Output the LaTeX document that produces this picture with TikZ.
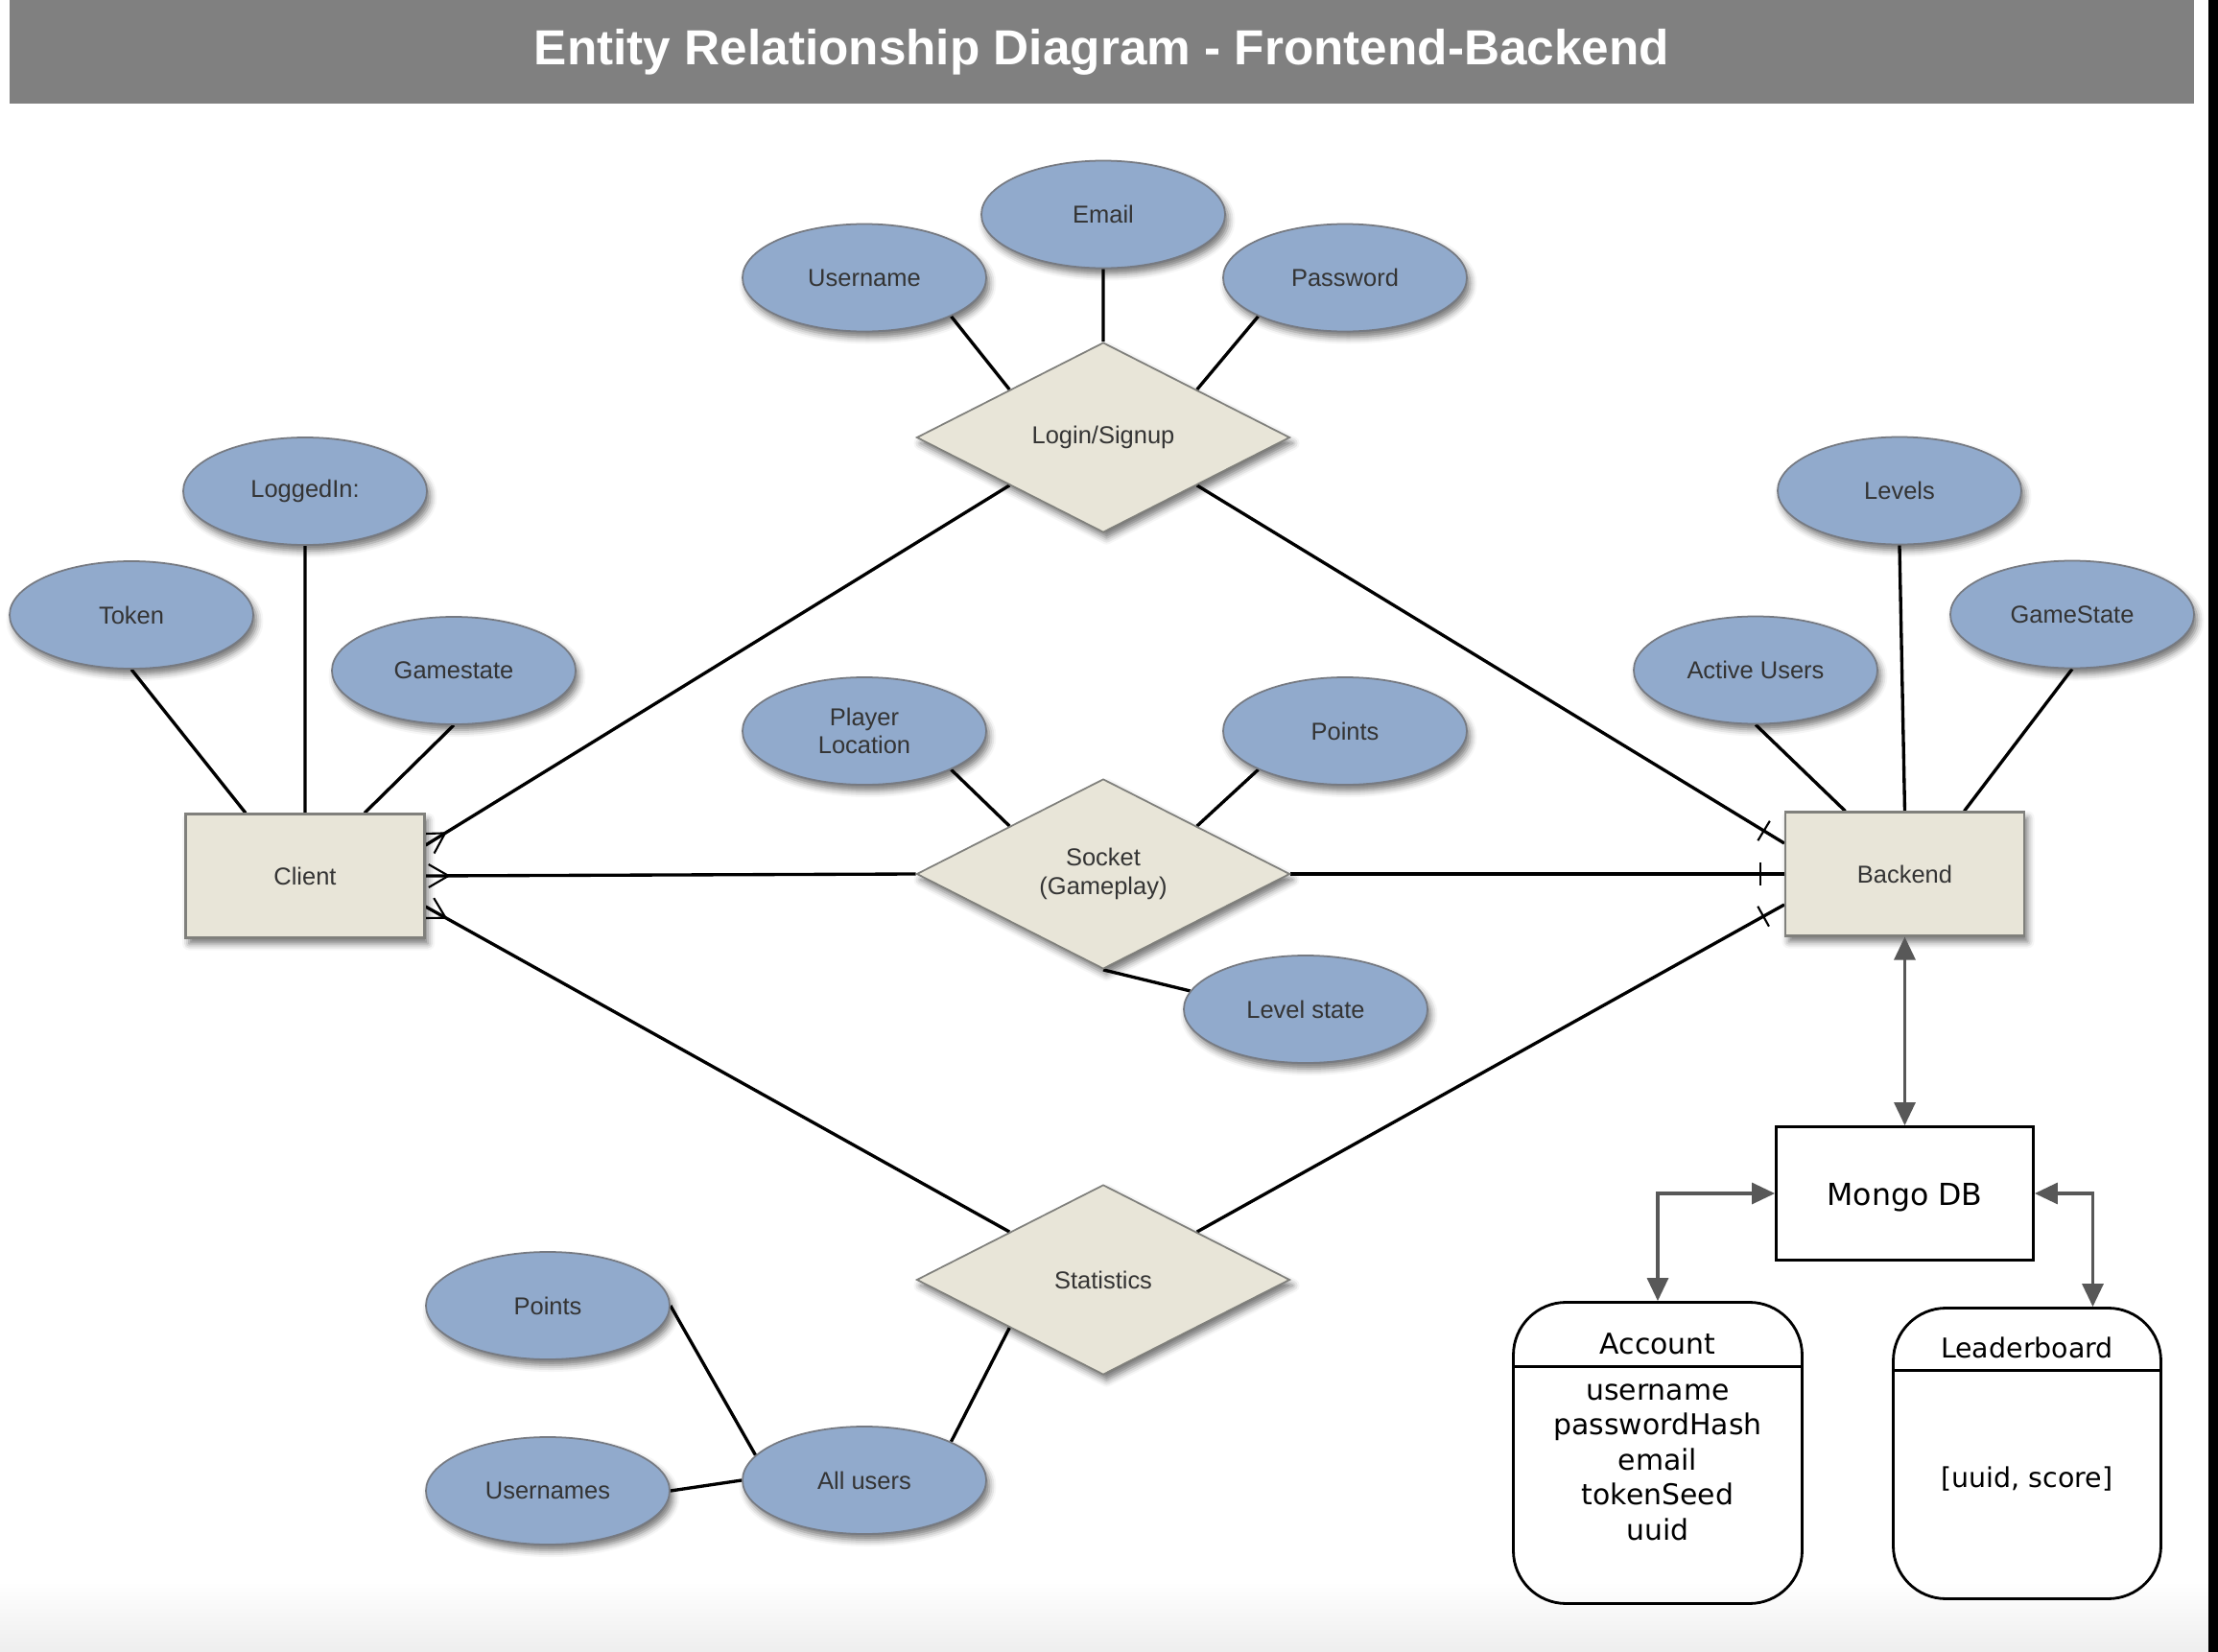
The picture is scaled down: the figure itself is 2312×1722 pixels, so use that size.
\documentclass[tikz,border=0pt]{standalone}
\usepackage{fontspec}
\setmainfont{Liberation Sans}
\newfontfamily\dbfont{DejaVu Sans}
\usepackage{tikz}
\usetikzlibrary{arrows.meta,positioning,calc,shapes.geometric,shadows.blur,backgrounds}
\definecolor{attrblue}{RGB}{145,170,204}
\definecolor{attrline}{RGB}{118,122,130}
\definecolor{entfill}{RGB}{232,229,216}
\definecolor{entline}{RGB}{128,128,124}
\definecolor{bargray}{RGB}{128,128,128}
\definecolor{arrowgray}{RGB}{88,88,88}
\definecolor{labelgray}{RGB}{52,52,52}
\definecolor{footgray}{RGB}{238,238,238}

\tikzset{
  softshadow/.style={blur shadow={shadow xshift=0.35mm, shadow yshift=-0.6mm, shadow blur radius=0.7mm, shadow opacity=55}},
  erfont/.style={font=\fontsize{7.25}{8.4}\selectfont, text=labelgray},
  attr/.style={ellipse, draw=attrline, line width=0.5pt, fill=attrblue, minimum width=25.4mm, minimum height=11.2mm, inner sep=0pt, align=center, erfont, softshadow},
  entity/.style={rectangle, draw=entline, line width=0.6pt, fill=entfill, minimum width=24.9mm, minimum height=12.9mm, erfont, softshadow},
  relation/.style={diamond, draw=entline, line width=0.5pt, fill=entfill, minimum width=38.9mm, minimum height=19.8mm, inner sep=0pt, align=center, erfont, softshadow},
  erline/.style={line width=0.95pt, black},
  footline/.style={line width=0.6pt, black},
  dbline/.style={draw=arrowgray, line width=0.9pt, {Triangle[length=2.4mm,width=2.2mm]}-{Triangle[length=2.4mm,width=2.2mm]}},
  store/.style={draw=black, line width=0.8pt, rounded corners=5.5mm},
  storetext/.style={font=\dbfont\fontsize{#1}{10.4}\selectfont, align=center},
}

\begin{document}
\begin{tikzpicture}[x=0.1mm, y=-0.1mm, on grid]
  \useasboundingbox (0,0) rectangle (2312,1722);
  \shade[top color=white, bottom color=footgray] (0,1648) rectangle (2302,1722);
  \fill[black] (2302,0) rectangle (2312,1722);
  \node[fill=bargray, minimum width=227.7mm, minimum height=10.8mm, text=white, font=\fontsize{14.6}{17}\selectfont\bfseries] (title) at (1148.5,54) {Entity Relationship Diagram - Frontend-Backend};

  % relationships and entities
  \node[relation] (socket) at (1150,911) {Socket\\(Gameplay)};
  \node[relation, above=45.5mm of socket] (login) {Login/Signup};
  \node[relation, below=42.3mm of socket] (stats) {Statistics};
  \node[entity, below left=0.2mm and 83.2mm of socket] (client) {Client};
  \node[entity, right=83.55mm of socket] (backend) {Backend};

  % attributes
  \node[attr, above=23.25mm of login] (email) {Email};
  \node[attr, above left=16.65mm and 24.9mm of login] (username) {Username};
  \node[attr, above right=16.65mm and 25.2mm of login] (password) {Password};
  \node[attr, above=40.1mm of client] (loggedin) {LoggedIn:};
  \node[attr, above left=27.2mm and 18.1mm of client] (token) {Token};
  \node[attr, above right=21.4mm and 15.5mm of client] (gamestate) {Gamestate};
  \node[attr, above left=14.9mm and 24.9mm of socket] (playerloc) {Player\\Location};
  \node[attr, above right=14.9mm and 25.2mm of socket] (pointsup) {Points};
  \node[attr, below right=14.1mm and 21.1mm of socket] (levelstate) {Level state};
  \node[attr, above left=21.25mm and 15.55mm of backend] (activeusers) {Active Users};
  \node[attr, above left=39.95mm and 0.55mm of backend] (levels) {Levels};
  \node[attr, above right=27.05mm and 17.45mm of backend] (gamestatebe) {GameState};
  \node[attr, below left=20.9mm and 24.9mm of stats] (allusers) {All users};
  \node[attr, above left=18.2mm and 33mm of allusers] (pointsdown) {Points};
  \node[attr, below left=1.1mm and 33mm of allusers] (usernames) {Usernames};

  % database
  \node[draw, line width=0.8pt, minimum width=26.8mm, minimum height=13.9mm, text height=0.73em, text depth=0pt, font=\dbfont\fontsize{9}{11}\selectfont, below=33.3mm of backend] (mongo) {Mongo DB};
  \node[store, minimum width=30.1mm, minimum height=31.4mm, below left=27.05mm and 25.75mm of mongo] (account) {};
  \node[storetext=8.5] (accounthead) at ([yshift=-4.5mm]account.north) {Account};
  \node[storetext=8.5] (accountbody) at ([yshift=-16.8mm]account.north) {username\\passwordHash\\email\\tokenSeed\\uuid};
  \draw[line width=0.8pt] ([yshift=-6.8mm]account.north west) -- ([yshift=-6.8mm]account.north east);
  \node[store, minimum width=27.9mm, minimum height=30.3mm, below right=27.1mm and 12.75mm of mongo] (leader) {};
  \node[storetext=8.1] (leaderhead) at ([yshift=-4.3mm]leader.north) {Leaderboard};
  \node[storetext=8.1] (leaderbody) at ([yshift=-17.9mm]leader.north) {[uuid, score]};
  \draw[line width=0.8pt] ([yshift=-6.6mm]leader.north west) -- ([yshift=-6.6mm]leader.north east);

  \draw[dbline] (backend.south) -- (mongo.north);
  \draw[dbline] (mongo.west) -| (account.north);
  \draw[dbline] (mongo.east) -| ([xshift=6.85mm]leader.north);

  \begin{scope}[on background layer]
    \draw[erline] (username.south east) -- (login.north west)
      (email.south) -- (login.north)
      (password.south west) -- (login.north east);
    \draw[erline] (token.south) -- ([xshift=-6.2mm]client.north)
      (loggedin.south) -- (client.north)
      (gamestate.south) -- ([xshift=6.2mm]client.north);
    \draw[erline] (playerloc.south east) -- (socket.north west)
      (pointsup.south west) -- (socket.north east)
      (socket.south) -- (levelstate.171);
    \draw[erline] (activeusers.south) -- ([xshift=-6.2mm]backend.north)
      (levels.south) -- (backend.north)
      (gamestatebe.south) -- ([xshift=6.2mm]backend.north);
    \draw[erline] (stats.south west) -- (allusers.north east)
      (pointsdown.east) -- (allusers.167)
      (usernames.east) -- (allusers.west);

    % many side: crow's feet at the client
    \foreach \rel/\dy in {login.south west/3.2mm, socket.west/0mm, stats.north west/-3.2mm} {
      \draw[erline] (\rel) -- ([yshift=\dy]client.east) coordinate (end);
      \draw[footline] ($(end)!2.4mm!(\rel)$) coordinate (fork)
        -- ($(fork)!1!30:(end)$) (fork) -- ($(fork)!1!-30:(end)$);
    }
    % one side: bars at the backend
    \foreach \rel/\dy in {login.south east/3.2mm, socket.east/0mm, stats.north east/-3.2mm} {
      \draw[erline] (\rel) -- ([yshift=\dy]backend.west) coordinate (end);
      \draw[footline] ($(end)!2.5mm!(\rel)$) coordinate (bar)
        ($(bar)!1.2mm!90:(end)$) -- ($(bar)!1.2mm!-90:(end)$);
    }
  \end{scope}
\end{tikzpicture}
\end{document}
